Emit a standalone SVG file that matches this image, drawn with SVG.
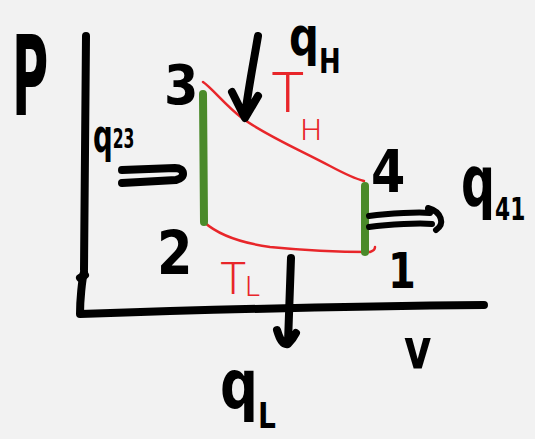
<svg xmlns="http://www.w3.org/2000/svg" width="535" height="439" viewBox="0 0 535 439">
<defs>
<style>
.bk{fill:none;stroke:#000;stroke-width:8;stroke-linecap:round;stroke-linejoin:round}
.bk6{fill:none;stroke:#000;stroke-width:6;stroke-linecap:round;stroke-linejoin:round}
.gr{fill:none;stroke:#4a8a2a;stroke-width:8;stroke-linecap:round}
.rd{fill:none;stroke:#e8262a;stroke-width:2.5;stroke-linecap:round;stroke-linejoin:round}
.lb{font-family:"DejaVu Sans",sans-serif;font-weight:bold;fill:#000}
.rl{font-family:Roboto,"DejaVu Sans",sans-serif;font-weight:300;fill:#e8262a}
</style>
</defs>
<rect width="535" height="439" fill="#f2f2f2"/>
<g id="axes">
<path class="bk" d="M86,36 C86,120 85,200 84,270 M84,272 C82,280 80,300 80,314 C200,310 360,306 484,305"/>
<path class="bk" d="M80,278 L85,275"/>
</g>
<g id="connectors">
<path class="rd" d="M203,82 C212,88 225,105 242,118 C265,135 300,150 330,166 C345,174 356,179 364,181"/>
<path class="rd" d="M204,222 C215,232 235,242 270,247 C310,251 345,252 370,252 C373,251 375,249 375,247"/>
<path class="gr" d="M203,94 L204,222"/>
<path class="gr" d="M365,186 L365,252"/>
<path class="bk" d="M258,36 C254,60 248,90 245,116 M232,92 L245,118 L258,96"/>
<path class="bk" d="M122,170 L175,168 C185,168 186,178 176,180 L122,183"/>
<path class="bk6" d="M369,216 C390,213 420,212 430,213 M369,227 C390,224 420,223 432,224 M428,208 C442,212 445,224 436,230"/>
<path class="bk" d="M291,258 C290,280 289,320 288,343 M277,330 C280,340 283,345 288,344 C292,340 295,335 296,333"/>
</g>
<g id="labels">
<text class="lb" x="0" y="0" font-size="110" transform="translate(12,115) scale(0.45,1)">P</text>
<text id="n3" class="lb" x="0" y="0" font-size="55" transform="translate(164,104) scale(0.9,1)">3</text>
<text id="n2" class="lb" x="0" y="0" font-size="60" transform="translate(157,274) scale(0.85,1)">2</text>
<text id="n4" class="lb" x="0" y="0" font-size="58" transform="translate(371,192) scale(0.85,1)">4</text>
<text id="n1" class="lb" x="0" y="0" font-size="50" transform="translate(388,288) scale(0.8,1)">1</text>
<text class="lb" x="0" y="0" font-size="56" transform="translate(404,368) scale(0.75,1)">v</text>
<text class="lb" x="0" y="0" font-size="58" transform="translate(289,55) scale(0.72,0.92)">q<tspan font-size="36" dy="20">H</tspan></text>
<text class="lb" x="0" y="0" font-size="70" transform="translate(461,206) scale(0.68,1)">q<tspan font-size="32" dy="14">41</tspan></text>
<text class="lb" x="0" y="0" font-size="46" transform="translate(93,152) scale(0.6,1)">q<tspan font-size="26" dy="-4">23</tspan></text>
<text class="lb" x="0" y="0" font-size="68" transform="translate(220,408) scale(0.78,1)">q<tspan font-size="36" dy="20">L</tspan></text>
<text class="rl" x="0" y="0" font-size="56" transform="translate(271,112)">T<tspan font-size="30" dx="-4" dy="28">H</tspan></text>
<text class="rl" x="0" y="0" font-size="44" transform="translate(220,294)">T<tspan font-size="28" dx="-1" dy="2">L</tspan></text>
</g>
</svg>
